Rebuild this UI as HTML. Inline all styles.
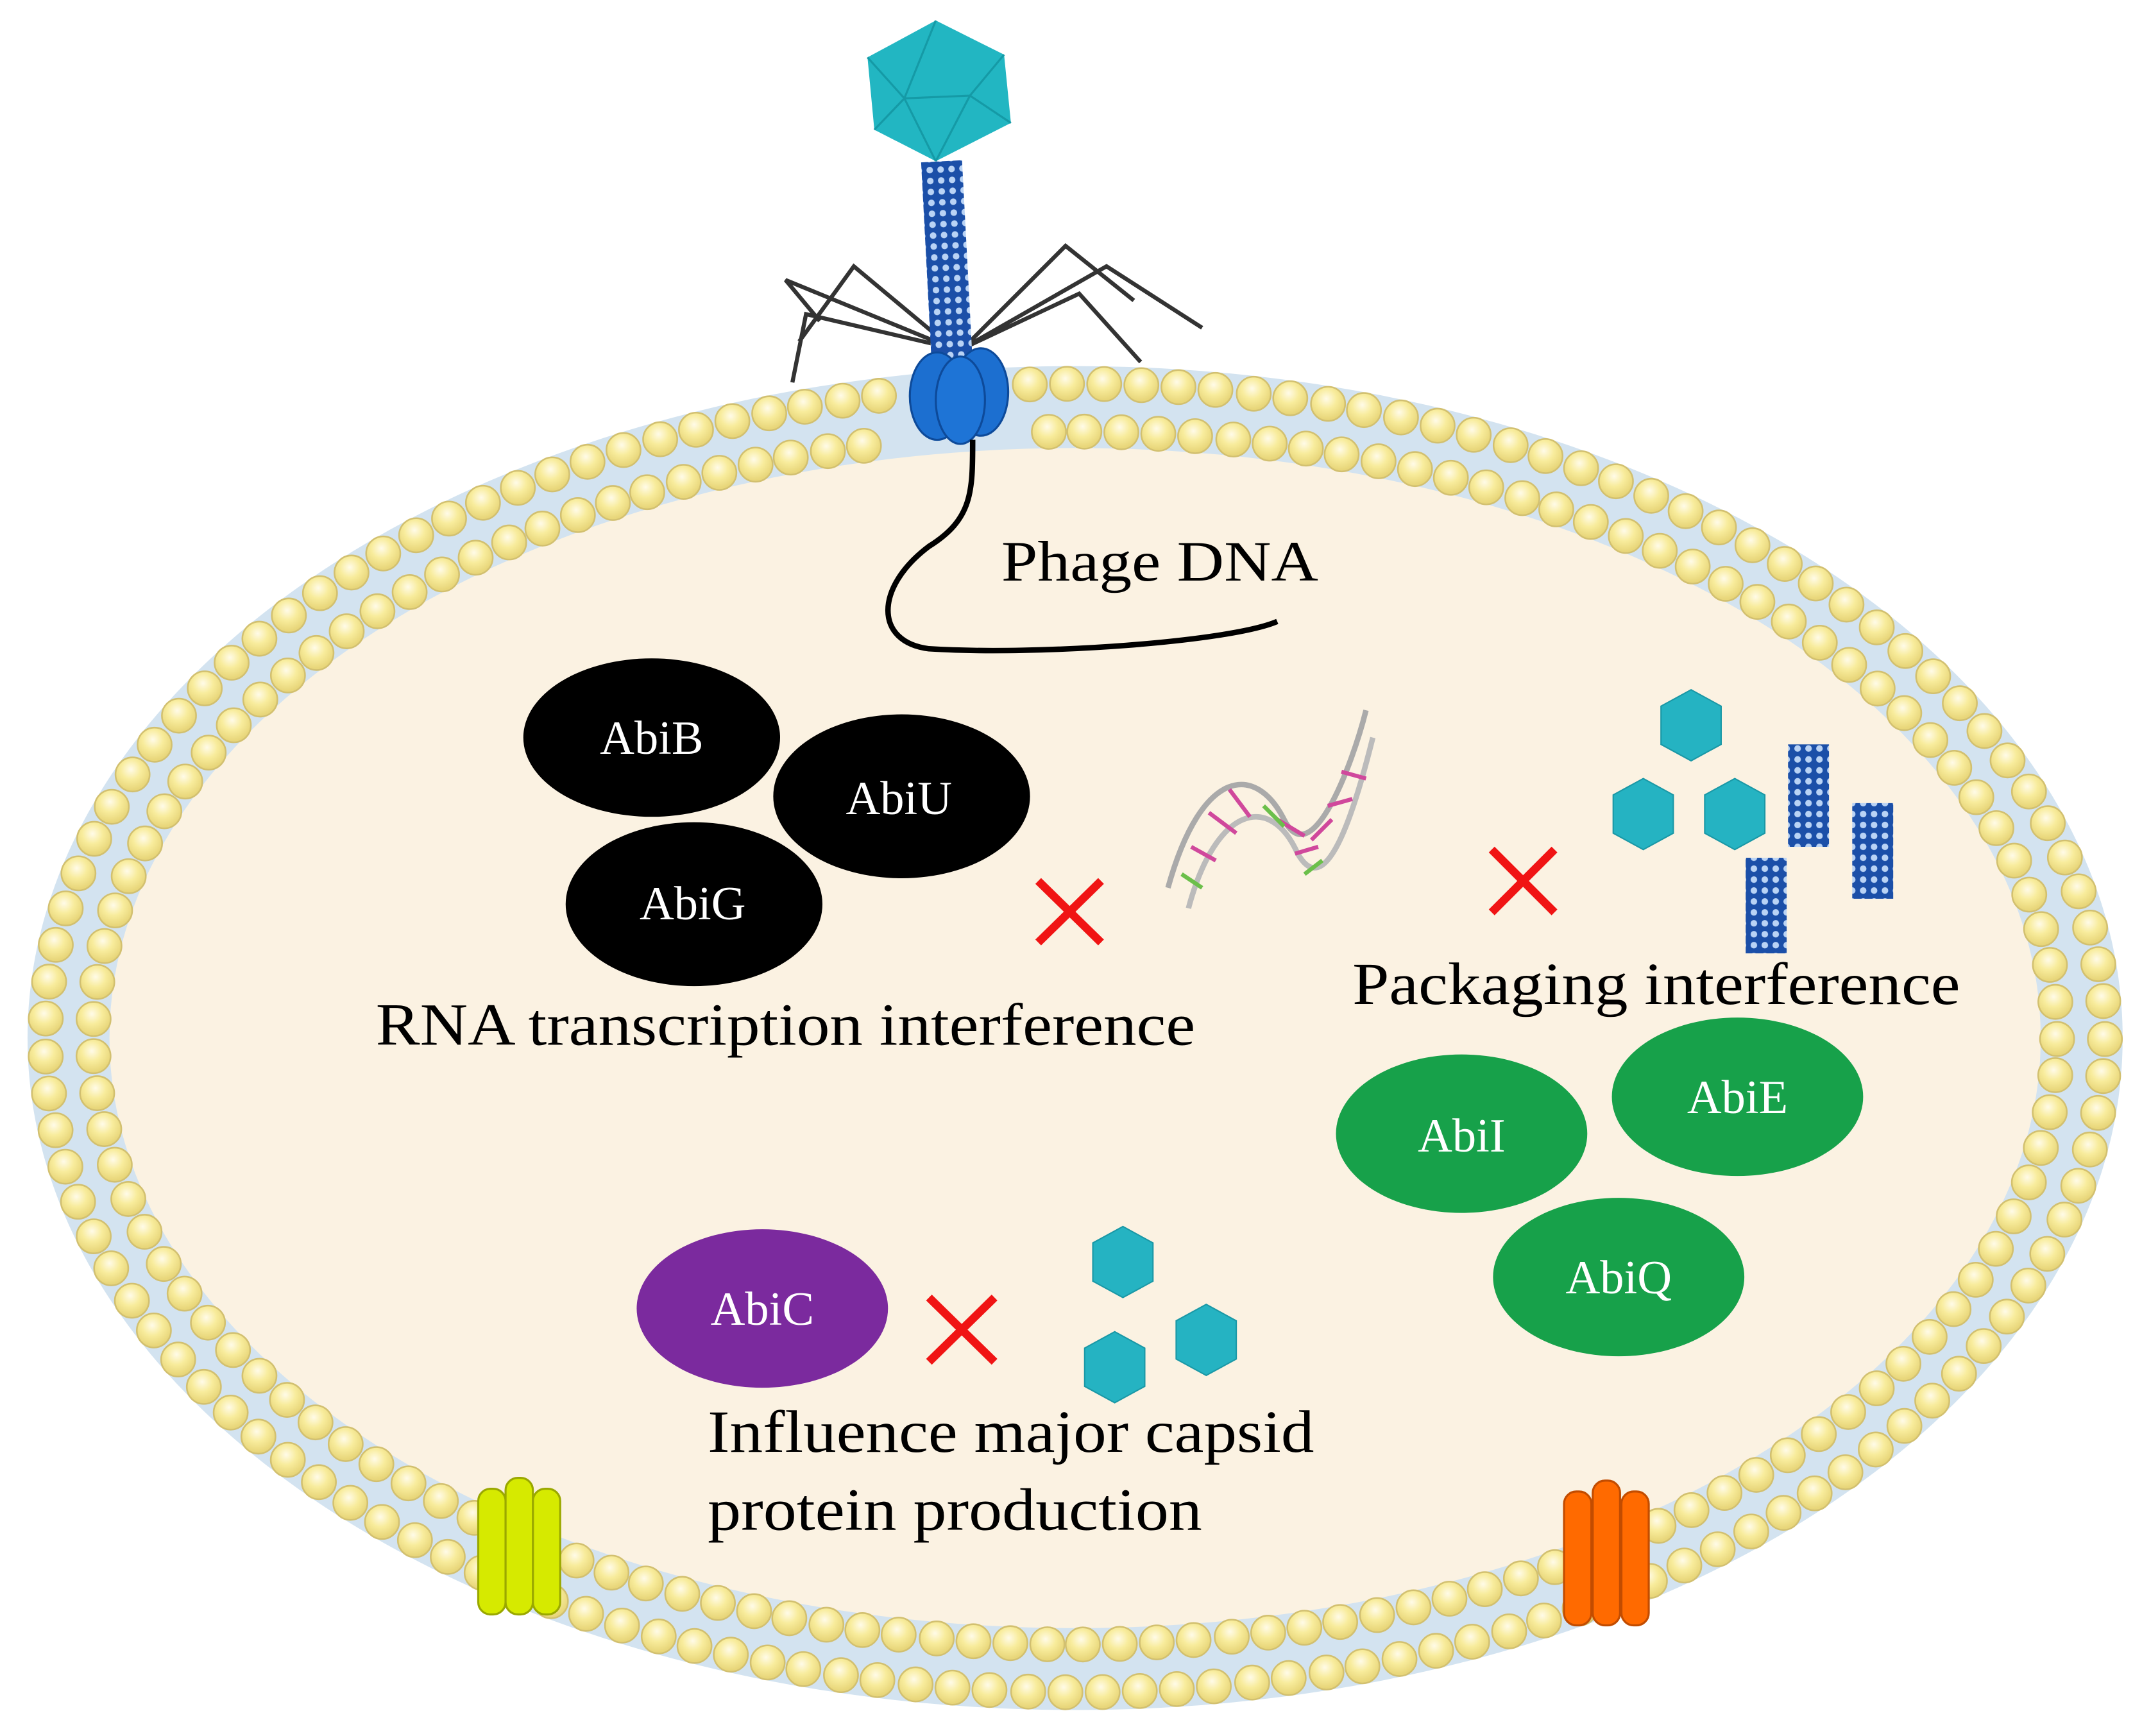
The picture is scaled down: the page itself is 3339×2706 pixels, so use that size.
<!DOCTYPE html>
<html><head><meta charset="utf-8"><style>
html,body{margin:0;padding:0;background:#fff;width:3339px;height:2706px;overflow:hidden}
svg{display:block}
text{font-family:"Liberation Serif",serif}
</style></head><body>
<svg id="s" width="3339" height="2706" viewBox="0 0 1568 1271" xmlns="http://www.w3.org/2000/svg">
<defs>
<radialGradient id="bead" cx="0.45" cy="0.35" r="0.6">
<stop offset="0" stop-color="#fffbe8"/><stop offset="0.5" stop-color="#f8ec9c"/><stop offset="1" stop-color="#e8d67a"/>
</radialGradient>
<pattern id="tail" width="8" height="8" patternUnits="userSpaceOnUse">
<rect width="8" height="8" fill="#1b4fa8"/><circle cx="4" cy="4" r="2.4" fill="#b9d3f5"/>
</pattern>
</defs>
<ellipse cx="787" cy="760" rx="767" ry="492" fill="#d3e3f0"/>
<ellipse cx="787" cy="760" rx="707" ry="432" fill="#fbf2e2"/>
<g id="beads"></g>
<!-- phage -->
<g stroke="#333" stroke-width="3" fill="none">
<path d="M697 255 L625 195 L585 250 M697 255 L575 205 L600 235 M697 255 L590 230 L580 280"/>
<path d="M705 255 L780 180 L830 220 M705 255 L810 195 L880 240 M705 255 L790 215 L835 265"/>
</g>
<polygon points="685,15 735,40 740,90 685,118 640,95 635,42" fill="#22b6c2"/>
<g stroke="#159aa6" stroke-width="1.5" fill="none"><path d="M685,15 L662,72 L710,70 L685,118 M635,42 L662,72 L640,95 M735,40 L710,70 L740,90 M662,72 L685,118"/></g>
<rect x="678" y="118" width="30" height="150" fill="url(#tail)" transform="rotate(-3 693 190)"/>
<ellipse cx="686" cy="290" rx="20" ry="32" fill="#1c6fd0" stroke="#0d4a9a" stroke-width="1.5"/>
<ellipse cx="718" cy="287" rx="20" ry="32" fill="#1c6fd0" stroke="#0d4a9a" stroke-width="1.5"/>
<ellipse cx="703" cy="293" rx="18" ry="32" fill="#1e74d6" stroke="#0d4a9a" stroke-width="1.5"/>
<path d="M712 322 C712 360 712 380 680 400 C640 430 640 470 680 475 C760 480 900 470 935 455" stroke="#000" stroke-width="4" fill="none"/>
<text x="733" y="425" font-size="42" textLength="232" lengthAdjust="spacingAndGlyphs">Phage DNA</text>
<!-- black -->
<ellipse cx="477" cy="540" rx="94" ry="58" fill="#000"/>
<ellipse cx="660" cy="583" rx="94" ry="60" fill="#000"/>
<ellipse cx="508" cy="662" rx="94" ry="60" fill="#000"/>
<g fill="#fff" font-size="35" text-anchor="middle">
<text x="477" y="552">AbiB</text><text x="658" y="596">AbiU</text><text x="507" y="673">AbiG</text></g>
<g stroke="#f01414" stroke-width="6"><path d="M760 645 L806 690 M806 645 L760 690"/><path d="M1092 622 L1138 668 M1138 622 L1092 668"/><path d="M680 950 L728 997 M728 950 L680 997"/></g>
<!-- helix -->
<g fill="none" stroke-width="4">
<path d="M855 650 C880 560 920 560 940 600 C960 640 990 560 1000 520" stroke="#aaa"/>
<path d="M870 665 C890 590 930 580 950 625 C970 660 990 600 1005 540" stroke="#bbb"/>
<g stroke-width="3"><path d="M872 620 L890 630 M885 595 L905 610 M900 578 L915 598 M935 600 L955 612 M948 625 L965 620 M960 615 L975 600 M972 590 L990 585 M982 565 L1000 570" stroke="#d0489c"/></g>
<g stroke-width="3"><path d="M865 640 L880 650 M925 590 L940 605 M955 640 L968 630" stroke="#6bbf4a"/></g>
</g>
<!-- capsids -->
<g fill="#25b3c2" stroke="#1a98a6" stroke-width="1">
<polygon points="1238,505 1260,517 1260,545 1238,557 1216,545 1216,517"/>
<polygon points="1203,570 1225,582 1225,610 1203,622 1181,610 1181,582"/>
<polygon points="1270,570 1292,582 1292,610 1270,622 1248,610 1248,582"/>
<polygon points="822,898 844,910 844,938 822,950 800,938 800,910"/>
<polygon points="816,975 838,987 838,1015 816,1027 794,1015 794,987"/>
<polygon points="883,955 905,967 905,995 883,1007 861,995 861,967"/>
</g>
<rect x="1309" y="545" width="30" height="75" fill="url(#tail)"/>
<rect x="1356" y="588" width="30" height="70" fill="url(#tail)"/>
<rect x="1278" y="628" width="30" height="70" fill="url(#tail)"/>
<text x="275" y="765" font-size="44" textLength="600" lengthAdjust="spacingAndGlyphs">RNA transcription interference</text>
<text x="990" y="735" font-size="44" textLength="445" lengthAdjust="spacingAndGlyphs">Packaging interference</text>
<ellipse cx="1070" cy="830" rx="92" ry="58" fill="#17a14a"/>
<ellipse cx="1272" cy="803" rx="92" ry="58" fill="#17a14a"/>
<ellipse cx="1185" cy="935" rx="92" ry="58" fill="#17a14a"/>
<g fill="#fff" font-size="35" text-anchor="middle"><text x="1070" y="843">AbiI</text><text x="1272" y="815">AbiE</text><text x="1185" y="947">AbiQ</text></g>
<ellipse cx="558" cy="958" rx="92" ry="58" fill="#7b2a9e"/>
<text x="558" y="970" fill="#fff" font-size="35" text-anchor="middle">AbiC</text>
<text x="518" y="1063" font-size="44" textLength="444" lengthAdjust="spacingAndGlyphs">Influence major capsid</text>
<text x="518" y="1120" font-size="44" textLength="362" lengthAdjust="spacingAndGlyphs">protein production</text>
<!-- channels -->
<g fill="#d6ea00" stroke="#9aa800" stroke-width="1.5">
<rect x="350" y="1090" width="20" height="92" rx="9"/><rect x="390" y="1090" width="20" height="92" rx="9"/><rect x="370" y="1082" width="20" height="100" rx="9"/></g>
<g fill="#ff6a00" stroke="#c24c00" stroke-width="1.5">
<rect x="1145" y="1092" width="20" height="98" rx="9"/><rect x="1187" y="1092" width="20" height="98" rx="9"/><rect x="1166" y="1084" width="20" height="106" rx="9"/></g>
</svg>
<script>
(function(){
var g=document.getElementById('beads'),ns='http://www.w3.org/2000/svg',cx=787,cy=760;
function ring(rx,ry,sp,r){
 var N=4000,pts=[],L=0,px=cx+rx,py=cy;
 for(var i=1;i<=N;i++){var t=2*Math.PI*i/N,x=cx+rx*Math.cos(t),y=cy+ry*Math.sin(t);L+=Math.hypot(x-px,y-py);pts.push([x,y,L]);px=x;py=y;}
 var n=Math.round(L/sp),step=L/n,k=0;
 for(var j=0;j<n;j++){var d=j*step;while(k<pts.length-1&&pts[k][2]<d)k++;
  var x=pts[k][0],y=pts[k][1];
  if(y<330&&x>655&&x<745)continue;
  var c=document.createElementNS(ns,'circle');c.setAttribute('cx',x);c.setAttribute('cy',y);c.setAttribute('r',r);
  c.setAttribute('fill','url(#bead)');c.setAttribute('stroke','#d2c070');c.setAttribute('stroke-width','1.2');g.appendChild(c);}
}
ring(754,479,27.5,12.5);
ring(719,444,27,12.5);
})();
</script>
</body></html>
